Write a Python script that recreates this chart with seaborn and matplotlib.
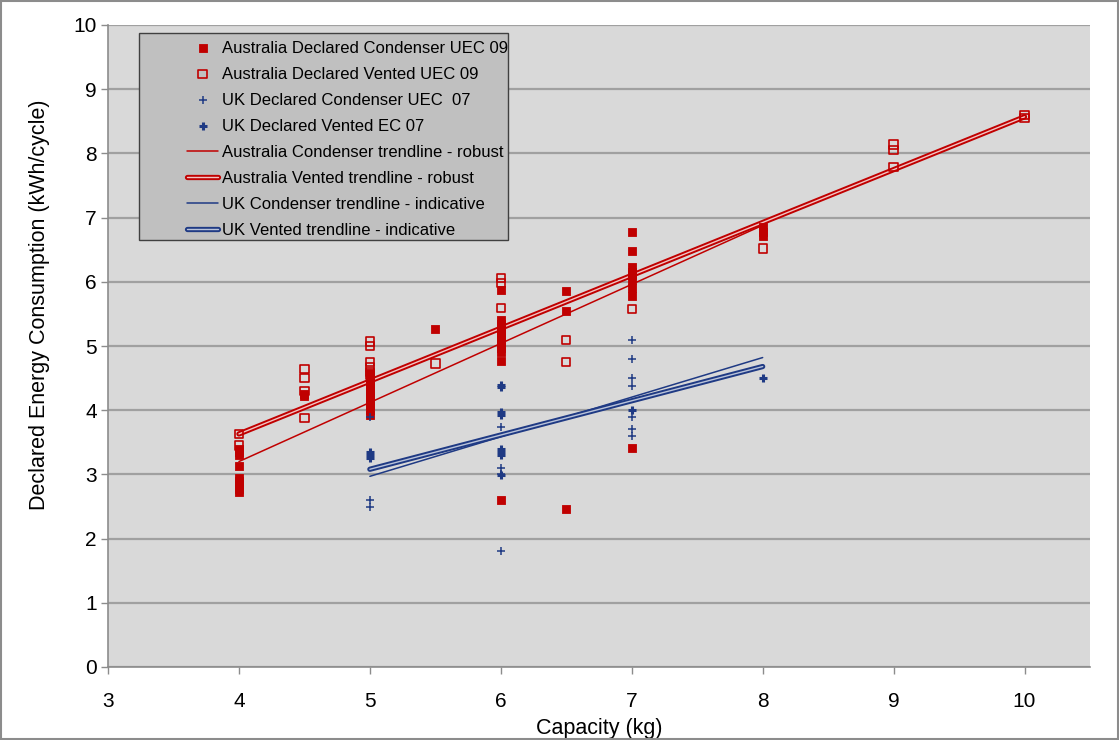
import numpy as np
import pandas as pd
import matplotlib
matplotlib.use("Agg")
import matplotlib.pyplot as plt
import matplotlib.patheffects as pe
from matplotlib.patches import Rectangle
import seaborn as sns

# ---------------- data ----------------
aus_cond_x = [4]*9 + [4.5]*2 + [5]*12 + [5.5] + [6]*13 + [6.5]*3 + [7]*9 + [8]*3
aus_cond_y = [2.72, 2.78, 2.85, 2.90, 2.95, 3.13, 3.30, 3.35, 3.40,
              4.22, 4.26,
              3.92, 4.00, 4.08, 4.15, 4.20, 4.25, 4.30, 4.35, 4.40, 4.45, 4.50, 4.58,
              5.27,
              2.60, 4.77, 4.90, 4.97, 5.03, 5.10, 5.15, 5.20, 5.25, 5.30, 5.35, 5.40, 5.87,
              2.46, 5.55, 5.86,
              3.41, 5.78, 5.90, 6.03, 6.10, 6.15, 6.23, 6.48, 6.78,
              6.72, 6.78, 6.85]

aus_vent_x = [4]*2 + [4.5]*4 + [5]*6 + [5.5] + [6]*3 + [6.5]*2 + [7] + [8] + [9]*3 + [10]*2
aus_vent_y = [3.45, 3.63,
              3.88, 4.30, 4.50, 4.64,
              4.55, 4.60, 4.67, 4.75, 5.00, 5.07,
              4.73,
              5.59, 5.98, 6.06,
              4.75, 5.09,
              5.58,
              6.52,
              7.79, 8.05, 8.14,
              8.55, 8.60]

uk_cond_x = [5]*3 + [6]*4 + [7]*7
uk_cond_y = [2.50, 2.60, 3.90,
             1.81, 3.00, 3.10, 3.74,
             3.60, 3.70, 3.90, 4.38, 4.50, 4.80, 5.10]

uk_vent_x = [5]*3 + [6]*8 + [7] + [8]
uk_vent_y = [3.25, 3.30, 3.35,
             2.99, 3.30, 3.35, 3.40, 3.92, 3.97, 4.36, 4.40,
             4.00,
             4.50]

# trendline end points
aus_cond_trend_x = [4, 8]
aus_cond_trend_y = [3.20, 6.88]
aus_vent_trend_x = [4, 10]
aus_vent_trend_y = [3.63, 8.57]
uk_cond_trend_x = [5, 8]
uk_cond_trend_y = [2.97, 4.82]
uk_vent_trend_x = [5, 8]
uk_vent_trend_y = [3.08, 4.68]

labels = ["Australia Declared Condenser UEC 09",
          "Australia Declared Vented UEC 09",
          "UK Declared Condenser UEC  07",
          "UK Declared Vented EC 07",
          "Australia Condenser trendline - robust",
          "Australia Vented trendline - robust",
          "UK Condenser trendline - indicative",
          "UK Vented trendline - indicative"]

x_ticks = [3, 4, 5, 6, 7, 8, 9, 10]
y_ticks = [0, 1, 2, 3, 4, 5, 6, 7, 8, 9, 10]

# ---------------- style ----------------
sns.set_style("white")
plt.rcParams['font.family'] = ['Liberation Sans', 'DejaVu Sans']
plt.rcParams['text.color'] = 'black'
plt.rcParams['axes.labelcolor'] = 'black'

RED = "#C00000"
NAVY = "#1F3A84"

fig = plt.figure(figsize=(11.19, 7.40), dpi=100)
ax = fig.add_axes([108/1119, 1 - 667/740, (1090-108)/1119, (667-25)/740])
ax.set_facecolor("#D9D9D9")

# scatter series
sns.scatterplot(x=aus_cond_x, y=aus_cond_y, marker="s", s=30, color=RED,
                edgecolor=RED, linewidth=0.6, label=labels[0], ax=ax, zorder=4)
sns.scatterplot(x=aus_vent_x, y=aus_vent_y, marker="s", s=36, color=RED,
                edgecolor=RED, linewidth=1.2, label=labels[1], ax=ax, zorder=4)
ax.collections[-1].set_facecolor("none")
sns.scatterplot(x=uk_cond_x, y=uk_cond_y, marker="+", s=30, color=NAVY,
                edgecolor=NAVY, linewidth=1.1, label=labels[2], ax=ax, zorder=4)
sns.scatterplot(x=uk_vent_x, y=uk_vent_y, marker="+", s=30, color=NAVY,
                edgecolor=NAVY, linewidth=2.2, label=labels[3], ax=ax, zorder=4)

# trendlines
sns.lineplot(x=aus_cond_trend_x, y=aus_cond_trend_y, color=RED, linewidth=1.1,
             label=labels[4], ax=ax, zorder=3)
sns.lineplot(x=aus_vent_trend_x, y=aus_vent_trend_y, color="#F2C4C4", linewidth=1.0,
             label=labels[5], ax=ax, zorder=3, solid_capstyle="round",
             path_effects=[pe.Stroke(linewidth=3.8, foreground=RED, capstyle="round"), pe.Normal()])
sns.lineplot(x=uk_cond_trend_x, y=uk_cond_trend_y, color=NAVY, linewidth=1.1,
             label=labels[6], ax=ax, zorder=3)
sns.lineplot(x=uk_vent_trend_x, y=uk_vent_trend_y, color="#B9C3DA", linewidth=1.0,
             label=labels[7], ax=ax, zorder=3, solid_capstyle="round",
             path_effects=[pe.Stroke(linewidth=3.8, foreground=NAVY, capstyle="round"), pe.Normal()])

# axes
ax.set_xlim(3, 10.5)
ax.set_ylim(0, 10)
ax.set_xticks(x_ticks)
ax.set_yticks(y_ticks)
ax.tick_params(axis="both", which="both", direction="out", length=5, width=1,
               color="#8C8C8C", labelsize=15, labelcolor="black")
ax.tick_params(axis="x", bottom=True, pad=13)
ax.tick_params(axis="y", left=True, pad=3)
ax.yaxis.grid(True, color="#A0A0A0", linewidth=1.6)
ax.xaxis.grid(False)
ax.set_axisbelow(True)
for side in ["top", "right"]:
    ax.spines[side].set_visible(False)
for side in ["left", "bottom"]:
    ax.spines[side].set_color("#8C8C8C")
    ax.spines[side].set_linewidth(1.2)

ax.set_xlabel("Capacity (kg)", fontsize=15.5, color="black")
ax.set_ylabel("Declared Energy Consumption (kWh/cycle)", fontsize=15.5, color="black")
ax.xaxis.set_label_coords(0.5, -(718-667)/642)
ax.yaxis.set_label_coords(-(108-50)/982, 1 - (305-25)/642)

# legend
handles, labs = ax.get_legend_handles_labels()
hmap = dict(zip(labs, handles))
leg = ax.legend([hmap[l] for l in labels], labels, loc="upper left",
                bbox_to_anchor=(180/1119, 1 - 34/740), bbox_transform=fig.transFigure,
                borderaxespad=0, frameon=False, fontsize=12, handlelength=1.9,
                handletextpad=0.25, labelspacing=0.66, borderpad=0.4)
leg.set_zorder(6)
for t in leg.get_texts():
    t.set_color("black")
ax.add_patch(Rectangle((139/1119, 1 - 240/740), (508-139)/1119, (240-33)/740,
                       transform=fig.transFigure, facecolor="#C0C0C0",
                       edgecolor="#404040", linewidth=1.0, zorder=5))

# figure border
fig.patches.append(Rectangle((0.001, 0.001), 0.998, 0.997, transform=fig.transFigure,
                             fill=False, edgecolor="#8C8C8C", linewidth=1.5))

fig.savefig("out.png", dpi=100)
